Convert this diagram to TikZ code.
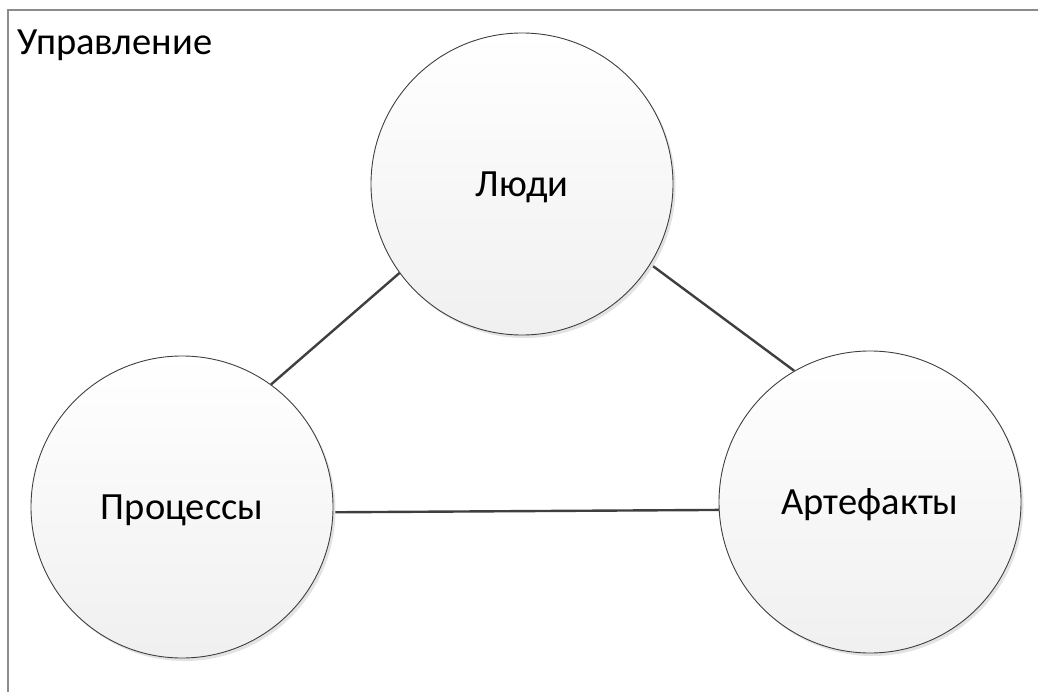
\documentclass[tikz,border=0pt]{standalone}
\usepackage{fontspec}
\setmainfont{Carlito}
\usepackage{tikz}
\usetikzlibrary{shadows}
\definecolor{framegray}{HTML}{8C8C8C}
\definecolor{linegray}{HTML}{3F3F3F}
\tikzstyle{circle node}=[shape=circle, draw=linegray, line width=0.9pt, top color=white, bottom color=black!6, minimum size=302pt, inner sep=0pt, text height=25pt, text depth=0pt, drop shadow={shadow xshift=2.5pt, shadow yshift=-3pt, fill=black!11, opacity=1}]
\tikzstyle{link edge}=[-, draw=linegray, line width=2.4pt]
\tikzstyle{frame edge}=[-, draw=framegray, line width=2pt]
\pgfdeclarelayer{nodelayer}
\pgfdeclarelayer{edgelayer}
\pgfsetlayers{edgelayer,main,nodelayer}

\begin{document}
\begin{tikzpicture}[x=1pt, y=-1pt, font=\fontsize{38.5}{46}\selectfont]
        	\useasboundingbox (0, 0) rectangle (1038, 692);
        	\begin{pgfonlayer}{nodelayer}
        		\node [style=circle node] (0) at (522, 184) {Люди};
        		\node [style=circle node] (1) at (182, 507) {Процессы};
        		\node [style=circle node] (2) at (870, 502) {Артефакты};
        		\node [anchor=base west, inner sep=0pt] (3) at (17, 55) {Управление};
        	\end{pgfonlayer}
        	\begin{pgfonlayer}{edgelayer}
        		\coordinate (4) at (8, 700);
        		\coordinate (5) at (8, 10);
        		\coordinate (6) at (1046, 10);
        		\draw [style=frame edge] (4) -- (5) -- (6);
        		\draw [style=link edge] (0.216) to (1.54);
        		\draw [style=link edge] (0.-32) to (2.120);
        		\draw [style=link edge] (1.-2) to (2.183);
        	\end{pgfonlayer}
        \end{tikzpicture}
\end{document}
